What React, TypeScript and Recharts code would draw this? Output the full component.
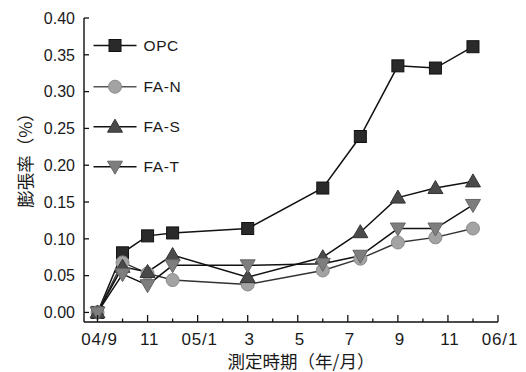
import React from "react";
import { LineChart, Line, XAxis, YAxis, Legend } from "recharts";

// x position in months after 2004/09
const MONTHS = [0, 1, 2, 3, 6, 9, 10.5, 12, 13.5, 15];
const OPC = [0, 0.081, 0.104, 0.108, 0.114, 0.169, 0.239, 0.335, 0.332, 0.361];
const FA_N = [0, 0.068, 0.053, 0.044, 0.038, 0.057, 0.073, 0.095, 0.102, 0.114];
const FA_S = [0, 0.062, 0.055, 0.078, 0.048, 0.075, 0.109, 0.156, 0.169, 0.178];
const FA_T = [0, 0.052, 0.037, 0.064, 0.064, 0.066, 0.077, 0.114, 0.114, 0.146];

const X_TICK_VALUES = [0, 1, 2, 3, 4, 5, 6, 7, 8, 9, 10, 11, 12, 13, 14, 15, 16];
const X_TICK_LABELS = ["04/9", "", "11", "", "05/1", "", "3", "", "5", "", "7", "", "9", "", "11", "", "06/1"];
const Y_TICKS = [0, 0.05, 0.1, 0.15, 0.2, 0.25, 0.3, 0.35, 0.4];

const SERIES_NAMES = ["OPC", "FA-N", "FA-S", "FA-T"];
const SERIES_KEYS = ["opc", "fan", "fas", "fat"];

const data = MONTHS.map((m, i) => ({
  m,
  opc: OPC[i],
  fan: FA_N[i],
  fas: FA_S[i],
  fat: FA_T[i],
}));

const NUM_FONT = "'Liberation Sans', Arial, sans-serif";
const JP_FONT = "'Noto Sans CJK JP', sans-serif";

function Marker({ kind, cx, cy }: { kind: string; cx: number; cy: number }) {
  if (kind === "opc") {
    return <rect x={cx - 6} y={cy - 6} width={12} height={12} fill="#2a2a2a" stroke="#111" strokeWidth={1} />;
  }
  if (kind === "fan") {
    return <circle cx={cx} cy={cy} r={6.5} fill="#a3a3a3" stroke="#8a8a8a" strokeWidth={1} />;
  }
  if (kind === "fas") {
    return (
      <polygon
        points={`${cx},${cy - 7.5} ${cx - 7.5},${cy + 5.5} ${cx + 7.5},${cy + 5.5}`}
        fill="#4a4a4a"
        stroke="#333"
        strokeWidth={1}
      />
    );
  }
  return (
    <polygon
      points={`${cx - 7.5},${cy - 5.5} ${cx + 7.5},${cy - 5.5} ${cx},${cy + 7.5}`}
      fill="#7e7e7e"
      stroke="#666"
      strokeWidth={1}
    />
  );
}

const makeDot = (kind: string) => (props: any) => {
  const { cx, cy, index } = props;
  if (cx == null || cy == null) return <g key={`${kind}-${index}`} />;
  return (
    <g key={`${kind}-${index}`}>
      <Marker kind={kind} cx={cx} cy={cy} />
    </g>
  );
};

const XTick = (props: any) => {
  const { x, y, payload } = props;
  const idx = X_TICK_VALUES.indexOf(payload.value);
  const label = idx >= 0 ? X_TICK_LABELS[idx] : "";
  const len = label ? 7 : 3.5;
  return (
    <g>
      <line x1={x} x2={x} y1={y} y2={y - len} stroke="#111" strokeWidth={1.3} />
      {label ? (
        <text x={x + 2} y={y + 23} textAnchor="middle" fontSize={17} fontFamily={NUM_FONT} fill="#1a1a1a" letterSpacing={0.8}>
          {label}
        </text>
      ) : null}
    </g>
  );
};

const YTick = (props: any) => {
  const { x, y, payload } = props;
  return (
    <g>
      <line x1={x} x2={x + 5} y1={y} y2={y} stroke="#111" strokeWidth={1.3} />
      <text x={x - 9} y={y} dy="0.36em" textAnchor="end" fontSize={16} fontFamily={NUM_FONT} fill="#1a1a1a">
        {Number(payload.value).toFixed(2)}
      </text>
    </g>
  );
};

const renderLegend = () => {
  const rowY = [15.5, 56.7, 96.7, 136.7];
  return (
    <svg width={130} height={150} style={{ display: "block" }}>
      {SERIES_NAMES.map((name, i) => (
        <g key={name}>
          <line x1={8.5} x2={51.5} y1={rowY[i]} y2={rowY[i]} stroke={i === 1 ? "#555" : "#111"} strokeWidth={1.5} />
          <Marker kind={SERIES_KEYS[i]} cx={30} cy={rowY[i]} />
          <text x={58.5} y={rowY[i]} dy="0.36em" fontSize={15.5} fontFamily={NUM_FONT} fill="#1a1a1a" letterSpacing={0.6}>
            {name}
          </text>
        </g>
      ))}
    </svg>
  );
};

export default function App() {
  return (
    <div style={{ position: "absolute", left: 0, top: 0, width: 526, height: 372, background: "#fff" }}>
      <LineChart width={526} height={372} data={data} margin={{ top: 18, right: 28, left: 0, bottom: 0 }}>
        <XAxis
          dataKey="m"
          type="number"
          domain={[-0.54, 16]}
          ticks={X_TICK_VALUES}
          interval={0}
          height={50}
          tickSize={0}
          tickMargin={0}
          tickLine={false}
          tick={<XTick />}
          axisLine={{ stroke: "#111", strokeWidth: 1.4 }}
          allowDataOverflow
        />
        <YAxis
          type="number"
          domain={[-0.013, 0.4]}
          ticks={Y_TICKS}
          interval={0}
          width={84}
          tickSize={0}
          tickMargin={0}
          tickLine={false}
          tick={<YTick />}
          axisLine={{ stroke: "#111", strokeWidth: 1.4 }}
          allowDataOverflow
        />
        <Legend
          layout="horizontal"
          verticalAlign="middle"
          align="center"
          wrapperStyle={{ left: 85, top: 30, width: 130, height: 150 }}
          content={renderLegend}
        />
        <Line dataKey="opc" name="OPC" stroke="#111" strokeWidth={1.5} dot={makeDot("opc")} isAnimationActive={false} />
        <Line dataKey="fan" name="FA-N" stroke="#333" strokeWidth={1.4} dot={makeDot("fan")} isAnimationActive={false} />
        <Line dataKey="fas" name="FA-S" stroke="#111" strokeWidth={1.5} dot={makeDot("fas")} isAnimationActive={false} />
        <Line dataKey="fat" name="FA-T" stroke="#111" strokeWidth={1.5} dot={makeDot("fat")} isAnimationActive={false} />
      </LineChart>
      <svg
        width={526}
        height={372}
        style={{ position: "absolute", left: 0, top: 0, pointerEvents: "none" }}
      >
        <text
          x={24}
          y={156}
          transform="rotate(-90 24 156)"
          textAnchor="middle"
          dominantBaseline="central"
          fontSize={17.5}
          fontFamily={JP_FONT}
          fill="#1a1a1a"
        >
          膨張率（%）
        </text>
        <text
          x={301}
          y={360}
          textAnchor="middle"
          dominantBaseline="central"
          fontSize={17.5}
          fontFamily={JP_FONT}
          fill="#1a1a1a"
        >
          測定時期（年/月）
        </text>
      </svg>
    </div>
  );
}
